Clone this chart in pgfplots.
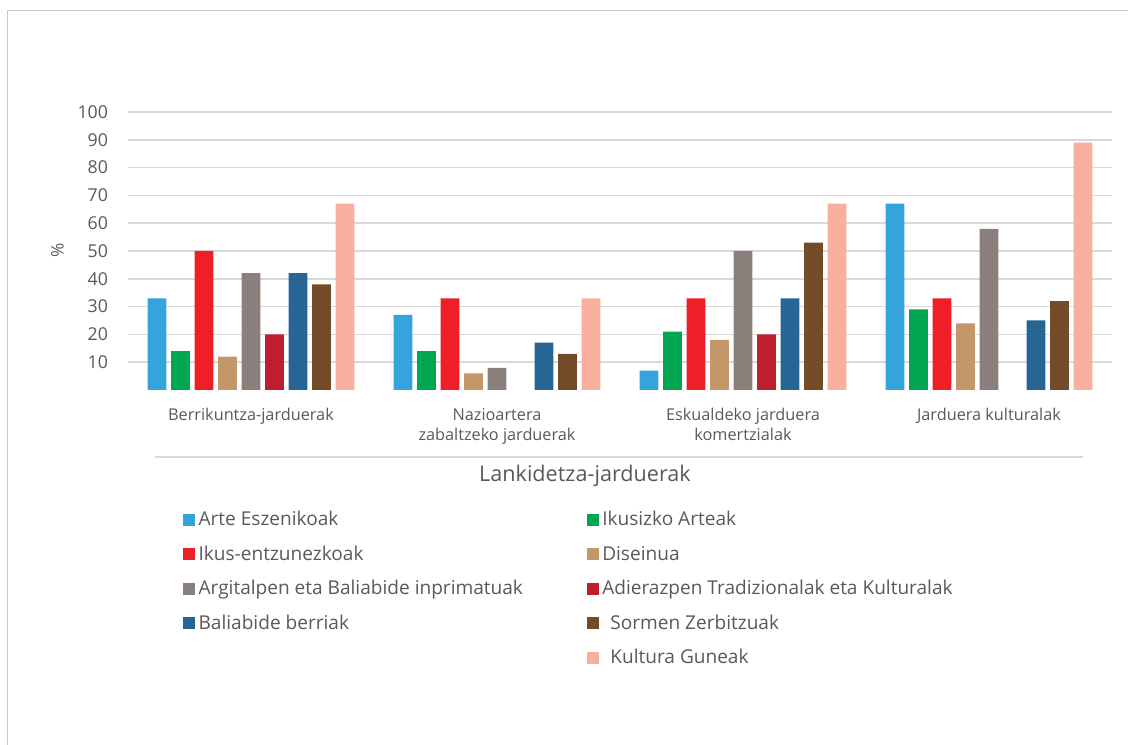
\documentclass[border=0pt]{standalone}
\usepackage{fontspec}
\setmainfont{Open Sans}
\usepackage{pgfplots}
\pgfplotsset{compat=1.18}
\definecolor{txt}{HTML}{595959}
\definecolor{gridc}{HTML}{D9D9D9}
\definecolor{frame}{HTML}{C8C8C8}
\definecolor{c1}{HTML}{34A4DB}
\definecolor{c2}{HTML}{00A651}
\definecolor{c3}{HTML}{EE1F26}
\definecolor{c4}{HTML}{C4976A}
\definecolor{c5}{HTML}{8A817C}
\definecolor{c6}{HTML}{BE1E2D}
\definecolor{c7}{HTML}{276594}
\definecolor{c8}{HTML}{754C29}
\definecolor{c9}{HTML}{F8AF9D}
\newcommand{\ce}[1]{\makebox[288.75pt][l]{#1}}
\begin{document}
\begin{tikzpicture}
\useasboundingbox (0,0) rectangle (846pt,558.75pt);
\draw[frame, line width=1.1pt] (5.625pt,0) -- (5.625pt,550.875pt) -- (846pt,550.875pt);
\begin{axis}[
  at={(96pt,266.25pt)}, anchor=south west,
  scale only axis, width=738pt, height=208.5pt,
  clip=false,
  ybar, bar width=13.9pt,
  xmin=-0.5, xmax=3.5, ymin=0, ymax=100,
  xtick={0,1,2,3},
  xticklabels={Berrikuntza-jarduerak, {Nazioartera\\zabaltzeko jarduerak}, {Eskualdeko jarduera\\komertzialak}, Jarduera kulturalak},
  xticklabel style={align=center, font=\fontsize{12.2pt}{15pt}\selectfont, text=txt, yshift=-6pt, anchor=north},
  ytick={10,20,...,100},
  yticklabel style={font=\fontsize{13.3pt}{15pt}\selectfont, text=txt, xshift=-11.5pt},
  /pgf/number format/assume math mode=true,
  ymajorgrids, grid style={gridc, line width=1.2pt},
  axis line style={draw=none}, tick style={draw=none},
  ylabel={\%}, ylabel style={at={([xshift=-53pt]axis description cs:0,0.5036)}, anchor=center, font=\fontsize{13pt}{15pt}\selectfont, text=txt},
  xlabel={Lankidetza-jarduerak}, xlabel style={at={([yshift=-64.5pt]axis description cs:0.4644,0)}, anchor=center, font=\fontsize{16.2pt}{18pt}\selectfont, text=txt},
  legend columns=2,
  legend style={at={([xshift=-3pt,yshift=-90.5pt]axis description cs:0.0559,0)}, anchor=north west, draw=none, fill=none,
    font=\fontsize{14.3pt}{16pt}\selectfont, text=txt,
    nodes={inner sep=0pt, anchor=west, text height=9pt, text depth=3pt},
    column sep=2.5pt, row sep=13.9pt},
  legend image code/.code={\fill[#1, draw=none] (0pt,-3.2pt) rectangle (9pt,5.8pt);},
]
\addplot[fill=c1, draw=none, bar shift=-70.5pt] coordinates {(0,33) (1,27) (2,7) (3,67)};
\addlegendentry{\ce{Arte Eszenikoak}}
\addplot[fill=c2, draw=none, bar shift=-52.875pt] coordinates {(0,14) (1,14) (2,21) (3,29)};
\addlegendentry{Ikusizko Arteak}
\addplot[fill=c3, draw=none, bar shift=-35.25pt] coordinates {(0,50) (1,33) (2,33) (3,33)};
\addlegendentry{\ce{Ikus-entzunezkoak}}
\addplot[fill=c4, draw=none, bar shift=-17.625pt] coordinates {(0,12) (1,6) (2,18) (3,24)};
\addlegendentry{Diseinua}
\addplot[fill=c5, draw=none, bar shift=0pt] coordinates {(0,42) (1,8) (2,50) (3,58)};
\addlegendentry{\ce{Argitalpen eta Baliabide inprimatuak}}
\addplot[fill=c6, draw=none, bar shift=17.625pt] coordinates {(0,20) (2,20)};
\addlegendentry{Adierazpen Tradizionalak eta Kulturalak}
\addplot[fill=c7, draw=none, bar shift=35.25pt] coordinates {(0,42) (1,17) (2,33) (3,25)};
\addlegendentry{\ce{Baliabide berriak}}
\addplot[fill=c8, draw=none, bar shift=52.875pt] coordinates {(0,38) (1,13) (2,53) (3,32)};
\addlegendentry{\ \,Sormen Zerbitzuak}
\addlegendimage{empty legend}
\addlegendentry{\ce{}}
\addplot[fill=c9, draw=none, bar shift=70.5pt] coordinates {(0,67) (1,33) (2,67) (3,89)};
\addlegendentry{\ \,Kultura Guneak}
\draw[gridc, line width=1.2pt] ([yshift=-50.25pt]axis description cs:0.0274,0) -- ([yshift=-50.25pt]axis description cs:0.9705,0);
\end{axis}
\end{tikzpicture}
\end{document}
